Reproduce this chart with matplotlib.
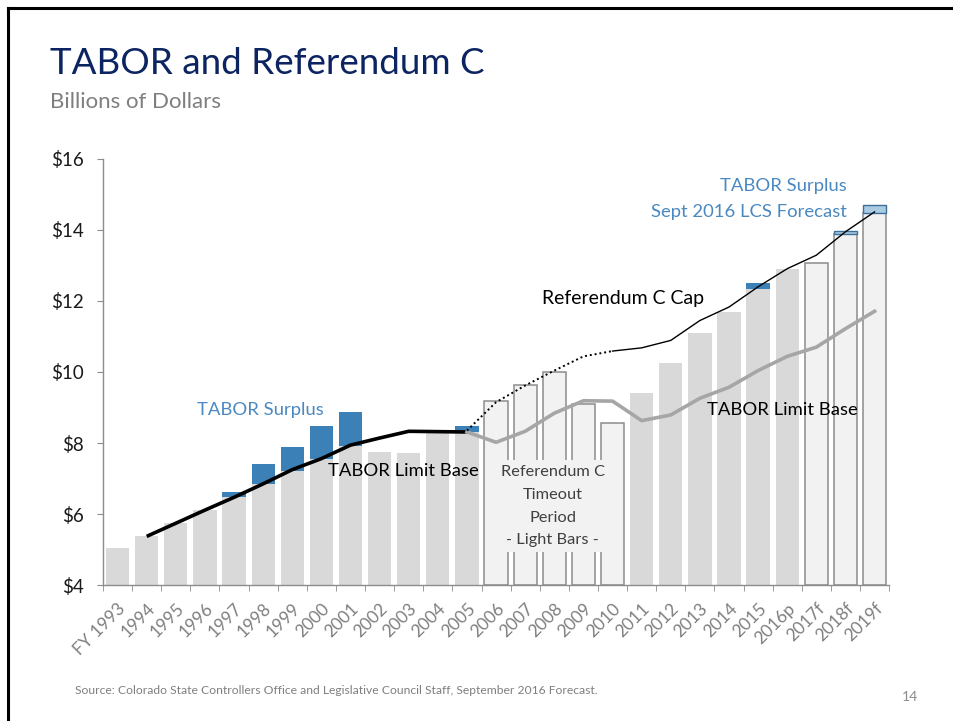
import numpy as np
import matplotlib.pyplot as plt
from matplotlib.lines import Line2D

plt.rcParams['font.family'] = ['Lato', 'DejaVu Sans']

# fiscal years on the x axis
years = ['FY 1993', '1994', '1995', '1996', '1997', '1998', '1999', '2000', '2001',
         '2002', '2003', '2004', '2005', '2006', '2007', '2008', '2009', '2010',
         '2011', '2012', '2013', '2014', '2015', '2016p', '2017f', '2018f', '2019f']

# revenue retained (grey part of each bar), $ billions
revenue = [5.05, 5.37, 5.74, 6.12, 6.48, 6.84, 7.22, 7.54, 7.92,
           7.75, 7.71, 8.32, 8.30, 9.17, 9.64, 9.99, 9.10, 8.55,
           9.41, 10.26, 11.11, 11.69, 12.35, 12.89, 13.07, 13.90, 14.49]

# TABOR surplus stacked on top (actual), and the Sept 2016 LCS forecast surplus
surplus = [0, 0, 0, 0, 0.15, 0.58, 0.68, 0.95, 0.95,
           0, 0, 0, 0.17, 0, 0, 0, 0, 0,
           0, 0, 0, 0, 0.17, 0, 0, 0, 0]
surplus_fcst = [0] * 25 + [0.08, 0.21]

# Referendum C timeout period + forecast years get light bars
light = ['2006', '2007', '2008', '2009', '2010', '2017f', '2018f', '2019f']

# TABOR limit base, 1994-2005 (black) and 2005-2019 (grey)
limit_early = [5.37, 5.74, 6.11, 6.47, 6.85, 7.25, 7.56, 7.94, 8.14, 8.33, 8.32, 8.31]
limit_late = [8.31, 8.02, 8.33, 8.84, 9.19, 9.18, 8.63, 8.79, 9.26, 9.57,
              10.04, 10.44, 10.70, 11.22, 11.71]

# Referendum C cap, 2005-2019 (dotted through 2010)
refc_cap = [8.35, 9.15, 9.62, 10.04, 10.44, 10.59, 10.68, 10.89, 11.45, 11.83,
            12.40, 12.91, 13.29, 13.95, 14.51]

x = np.arange(len(years))
revenue = np.array(revenue)
surplus = np.array(surplus)
surplus_fcst = np.array(surplus_fcst)
is_light = np.array([y in light for y in years])

fig = plt.figure(figsize=(9.54, 7.21), dpi=100)
ax = fig.add_axes([0.108, 0.1886, 0.824, 0.5909])

dark_gray = '#d9d9d9'
pale = '#f2f2f2'
blue = '#3b80b7'

ax.bar(x[~is_light], revenue[~is_light] - 4, bottom=4, width=0.8,
       color=dark_gray, zorder=2)
ax.bar(x[is_light], revenue[is_light] - 4, bottom=4, width=0.8,
       color=pale, edgecolor='#8c8c8c', linewidth=1.1, zorder=2)
s = surplus > 0
ax.bar(x[s], surplus[s], bottom=revenue[s], width=0.8, color=blue, zorder=2)
f = surplus_fcst > 0
ax.bar(x[f], surplus_fcst[f], bottom=revenue[f], width=0.8, color='#a9cbe4',
       edgecolor='#3d6f99', linewidth=1.0, zorder=2)

x_early = x[1:13]
x_late = x[12:]
ax.plot(x_early, limit_early, color='black', lw=2.6, zorder=4, solid_capstyle='butt')
ax.plot(x_late, limit_late, color='#a6a6a6', lw=2.6, zorder=4)
ax.plot(x_late[:6], refc_cap[:6], color='black', lw=1.4, ls=(0, (1, 1.5)), zorder=4)
ax.plot(x_late[5:], refc_cap[5:], color='black', lw=1.0, zorder=4)

ax.set_xlim(-0.5, len(years) - 0.5)
ax.set_ylim(4, 16)
ax.set_yticks(range(4, 17, 2))
ax.set_yticklabels(['$%d' % v for v in range(4, 17, 2)], fontsize=13.5, color='#1a1a1a')
ax.set_xticks(x)
ax.set_xticklabels(years, rotation=45, ha='right', va='top', rotation_mode='anchor',
                   fontsize=12.5, color='#7f7f7f')
ax.tick_params(axis='x', length=0, pad=11)
ax.set_xticks(np.arange(-0.5, len(years)), minor=True)
ax.tick_params(axis='x', which='minor', length=4, color='#8c8c8c', direction='out')
ax.tick_params(axis='y', length=4, color='#8c8c8c', pad=10)
for sp in ['top', 'right']:
    ax.spines[sp].set_visible(False)
for sp in ['left', 'bottom']:
    ax.spines[sp].set_color('#8c8c8c')
    ax.spines[sp].set_linewidth(1.0)

# annotations
ax.text(4.9, 8.93, 'TABOR Surplus', color='#4a88c0', fontsize=13.3, ha='center', va='center', zorder=5)
ax.text(9.8, 7.21, 'TABOR Limit Base', color='black', fontsize=13.3, ha='center', va='center', zorder=5)
ax.text(14.95, 6.22, 'Referendum C\nTimeout\nPeriod\n- Light Bars -', color='#404040',
        fontsize=11.8, ha='center', va='center', linespacing=1.8, zorder=5,
        bbox=dict(boxstyle='square,pad=0.3', facecolor=pale, edgecolor='none'))
ax.text(17.35, 12.08, 'Referendum C Cap', color='black', fontsize=14, ha='center', va='center', zorder=5)
ax.text(22.85, 8.93, 'TABOR Limit Base', color='black', fontsize=13.3, ha='center', va='center', zorder=5)
ax.text(25.05, 15.24, 'TABOR Surplus', color='#4a88c0', fontsize=13.3, ha='right', va='center', zorder=5)
ax.text(25.05, 14.51, 'Sept 2016 LCS Forecast', color='#4a88c0', fontsize=13.3, ha='right', va='center', zorder=5)

# slide title, subtitle, footer
fig.text(50 / 954, 1 - 63 / 721, 'TABOR and Referendum C', color='#0c2461', fontsize=26.5, va='center')
fig.text(50 / 954, 1 - 102 / 721, 'Billions of Dollars', color='#7f7f7f', fontsize=16, va='center')
fig.text(75 / 954, 1 - 690 / 721,
         'Source: Colorado State Controllers Office and Legislative Council Staff, September 2016 Forecast.',
         color='#7f7f7f', fontsize=8.7, va='center')
fig.text(918 / 954, 1 - 697 / 721, '14', color='#8c8c8c', fontsize=10, ha='right', va='center')

# slide border (top and left edges)
fig.add_artist(Line2D([8 / 954, 8 / 954], [0, 1 - 8 / 721], color='black', lw=2.2, transform=fig.transFigure))
fig.add_artist(Line2D([8 / 954, 1], [1 - 8 / 721, 1 - 8 / 721], color='black', lw=2.2, transform=fig.transFigure))

fig.savefig('out.png', dpi=100)
